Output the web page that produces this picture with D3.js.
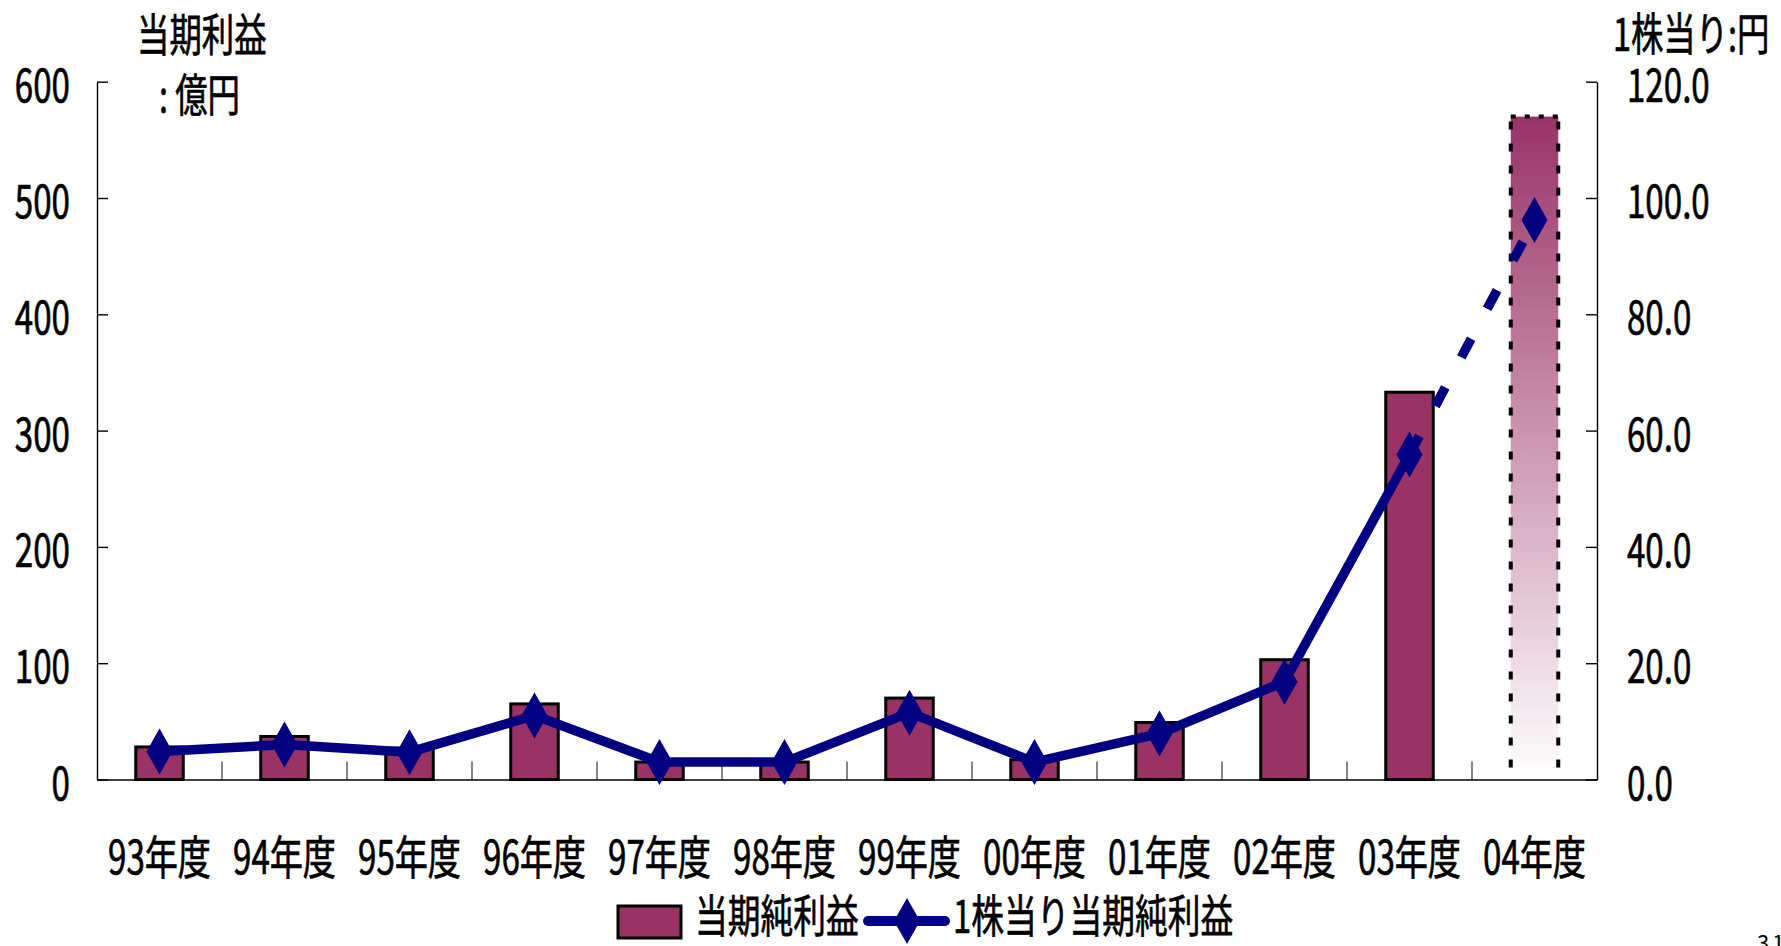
<!DOCTYPE html>
<html><head><meta charset="utf-8">
<script src="https://cdn.jsdelivr.net/npm/d3@7"></script>
<style>
html,body{margin:0;padding:0;background:#fff;}
svg{display:block;}
text{font-family:"Noto Sans CJK JP","Noto Sans",sans-serif;fill:#000;}
.t{stroke:#000;stroke-width:0.7px;}
</style></head>
<body>
<svg id="chart" width="1781" height="946"></svg>
<script>
const categories = ["93年度","94年度","95年度","96年度","97年度","98年度","99年度","00年度","01年度","02年度","03年度","04年度"];
const netIncome = [28, 37, 27, 65, 15, 15, 70, 17, 49, 103, 333, 570];
const eps = [4.8, 6.0, 4.7, 11.0, 3.0, 3.0, 11.5, 3.0, 7.9, 16.8, 55.9, 96.2];
const leftTicks = [0, 100, 200, 300, 400, 500, 600];
const rightTicks = [0, 20, 40, 60, 80, 100, 120];
const leftTitle = ["当期利益", ":", "億円"];
const rightTitle = "1株当り:円";
const legendLabels = ["当期純利益", "1株当り当期純利益"];
const pageNo = "31";

const BAR = "#993366", LINE = "#000080";
const SX = 0.72, FS = 46;

const svg = d3.select("#chart");
const defs = svg.append("defs");
const grad = defs.append("linearGradient").attr("id","fc").attr("x1",0).attr("y1",0).attr("x2",0).attr("y2",1);
grad.append("stop").attr("offset","0%").attr("stop-color",BAR);
grad.append("stop").attr("offset","100%").attr("stop-color","#ffffff");

const x = d3.scaleBand().domain(categories).range([97, 1597]).padding(0);
const yL = d3.scaleLinear().domain([0, 600]).range([779.5, 81.7]);
const yR = d3.scaleLinear().domain([0, 120]).range([779.5, 81.7]);
const bw = x.bandwidth() * 0.38;
const cx = c => x(c) + x.bandwidth() / 2;

function txt(g, px, py, s, anchor, fs) {
  return g.append("text").attr("class", "t")
    .attr("transform", `translate(${px},${py}) scale(${SX},1)`)
    .attr("text-anchor", anchor || "start")
    .attr("font-size", fs || FS)
    .text(s);
}

// category boundary ticks
const bnd = categories.slice(1);
svg.append("g").selectAll("line").data(bnd).join("line")
  .attr("x1", d => x(d)).attr("x2", d => x(d))
  .attr("y1", yL(0)).attr("y2", yL(0) - 18)
  .attr("stroke", "#444").attr("stroke-width", 1.3);

// bars (except forecast)
const solidIdx = d3.range(categories.length - 1);
svg.append("g").selectAll("rect").data(solidIdx).join("rect")
  .attr("x", i => cx(categories[i]) - bw / 2)
  .attr("y", i => yL(netIncome[i]))
  .attr("width", bw)
  .attr("height", i => yL(0) - yL(netIncome[i]))
  .attr("fill", BAR).attr("stroke", "#000").attr("stroke-width", 3);

// forecast bar (gradient, dotted border)
const li = categories.length - 1;
const fx0 = cx(categories[li]) - bw / 2, fx1 = cx(categories[li]) + bw / 2;
const fy = yL(netIncome[li]);
svg.append("rect").attr("x", fx0).attr("y", fy).attr("width", bw).attr("height", yL(0) - fy)
  .attr("fill", "url(#fc)");
svg.append("line").attr("x1", fx0).attr("x2", fx1).attr("y1", fy).attr("y2", fy)
  .attr("stroke", "#000").attr("stroke-width", 4).attr("stroke-dasharray", "5,9");
[fx0, fx1].forEach(xx => {
  svg.append("line").attr("x1", xx).attr("x2", xx).attr("y1", fy + 5).attr("y2", yL(0) - 12)
    .attr("stroke", "#000").attr("stroke-width", 4).attr("stroke-dasharray", "8,14");
});

// axes
const gB = svg.append("g").attr("transform", `translate(0,${yL(0)})`)
  .call(d3.axisBottom(x).tickSizeInner(0).tickSizeOuter(0).tickPadding(0));
gB.select(".domain").attr("stroke", "#000").attr("stroke-width", 1.6);
gB.selectAll(".tick text").attr("y", null).attr("dy", null).attr("class", "t")
  .attr("transform", `translate(0,${874 - yL(0)}) scale(${SX},1)`)
  .attr("font-size", FS).attr("font-family", null).attr("fill", "#000");

const gL = svg.append("g").attr("transform", "translate(97,0)")
  .call(d3.axisLeft(yL).tickValues(leftTicks).tickFormat(d3.format("d")).tickSizeInner(-11).tickSizeOuter(0));
gL.select(".domain").attr("stroke", "#000").attr("stroke-width", 1.4);
gL.selectAll(".tick line").attr("stroke", "#000").attr("stroke-width", 1.4);
gL.selectAll(".tick text").attr("x", -27 / SX).attr("dy", null).attr("y", 19.5).attr("class", "t")
  .attr("transform", `scale(${SX},1)`).attr("font-size", FS).attr("font-family", null).attr("fill", "#000");

const gR = svg.append("g").attr("transform", "translate(1597,0)")
  .call(d3.axisRight(yR).tickValues(rightTicks).tickFormat(d3.format(".1f")).tickSizeInner(-11).tickSizeOuter(0));
gR.select(".domain").attr("stroke", "#000").attr("stroke-width", 1.4);
gR.selectAll(".tick text").attr("x", 30 / SX).attr("dy", null).attr("y", 19.5).attr("class", "t")
  .attr("transform", `scale(${SX},1)`).attr("font-size", FS).attr("font-family", null).attr("fill", "#000");
gR.selectAll(".tick line").attr("stroke", "#000").attr("stroke-width", 1.4);

// line
const line = d3.line().x(i => cx(categories[i])).y(i => yR(eps[i]));
svg.append("path").attr("d", line(d3.range(0, categories.length - 1)))
  .attr("fill", "none").attr("stroke", LINE).attr("stroke-width", 9.5).attr("stroke-linejoin", "round");
svg.append("path").attr("d", line([categories.length - 2, categories.length - 1]))
  .attr("fill", "none").attr("stroke", LINE).attr("stroke-width", 9.5).attr("stroke-dasharray", "21,34");

const diamond = "M0,-23L13,0L0,23L-13,0Z";
svg.append("g").selectAll("path").data(d3.range(categories.length)).join("path")
  .attr("d", diamond)
  .attr("transform", i => `translate(${cx(categories[i])},${yR(eps[i])})`)
  .attr("fill", LINE);

// titles
txt(svg, 137, 52, leftTitle[0], "start", 45);
const t2 = txt(svg, 159, 112, "", "start", 45);
t2.append("tspan").text(leftTitle[1]);
t2.append("tspan").attr("dx", 10).text(leftTitle[2]);
txt(svg, 1613, 51, rightTitle, "start", 45);

// legend
svg.append("rect").attr("x", 618).attr("y", 906).attr("width", 63).attr("height", 32)
  .attr("fill", BAR).attr("stroke", "#000").attr("stroke-width", 3);
txt(svg, 695, 933, legendLabels[0], "start", 45.5);
svg.append("line").attr("x1", 868).attr("x2", 945).attr("y1", 921).attr("y2", 921)
  .attr("stroke", LINE).attr("stroke-width", 10).attr("stroke-linecap", "round");
svg.append("path").attr("d", diamond).attr("transform", "translate(907,921)").attr("fill", LINE);
txt(svg, 953, 933, legendLabels[1], "start", 45.5);

// page number
svg.append("text").attr("x", 1757).attr("y", 951).attr("font-size", 22)
  .attr("font-family", "Liberation Serif, serif").attr("letter-spacing", 3).text(pageNo);
</script>
</body></html>
